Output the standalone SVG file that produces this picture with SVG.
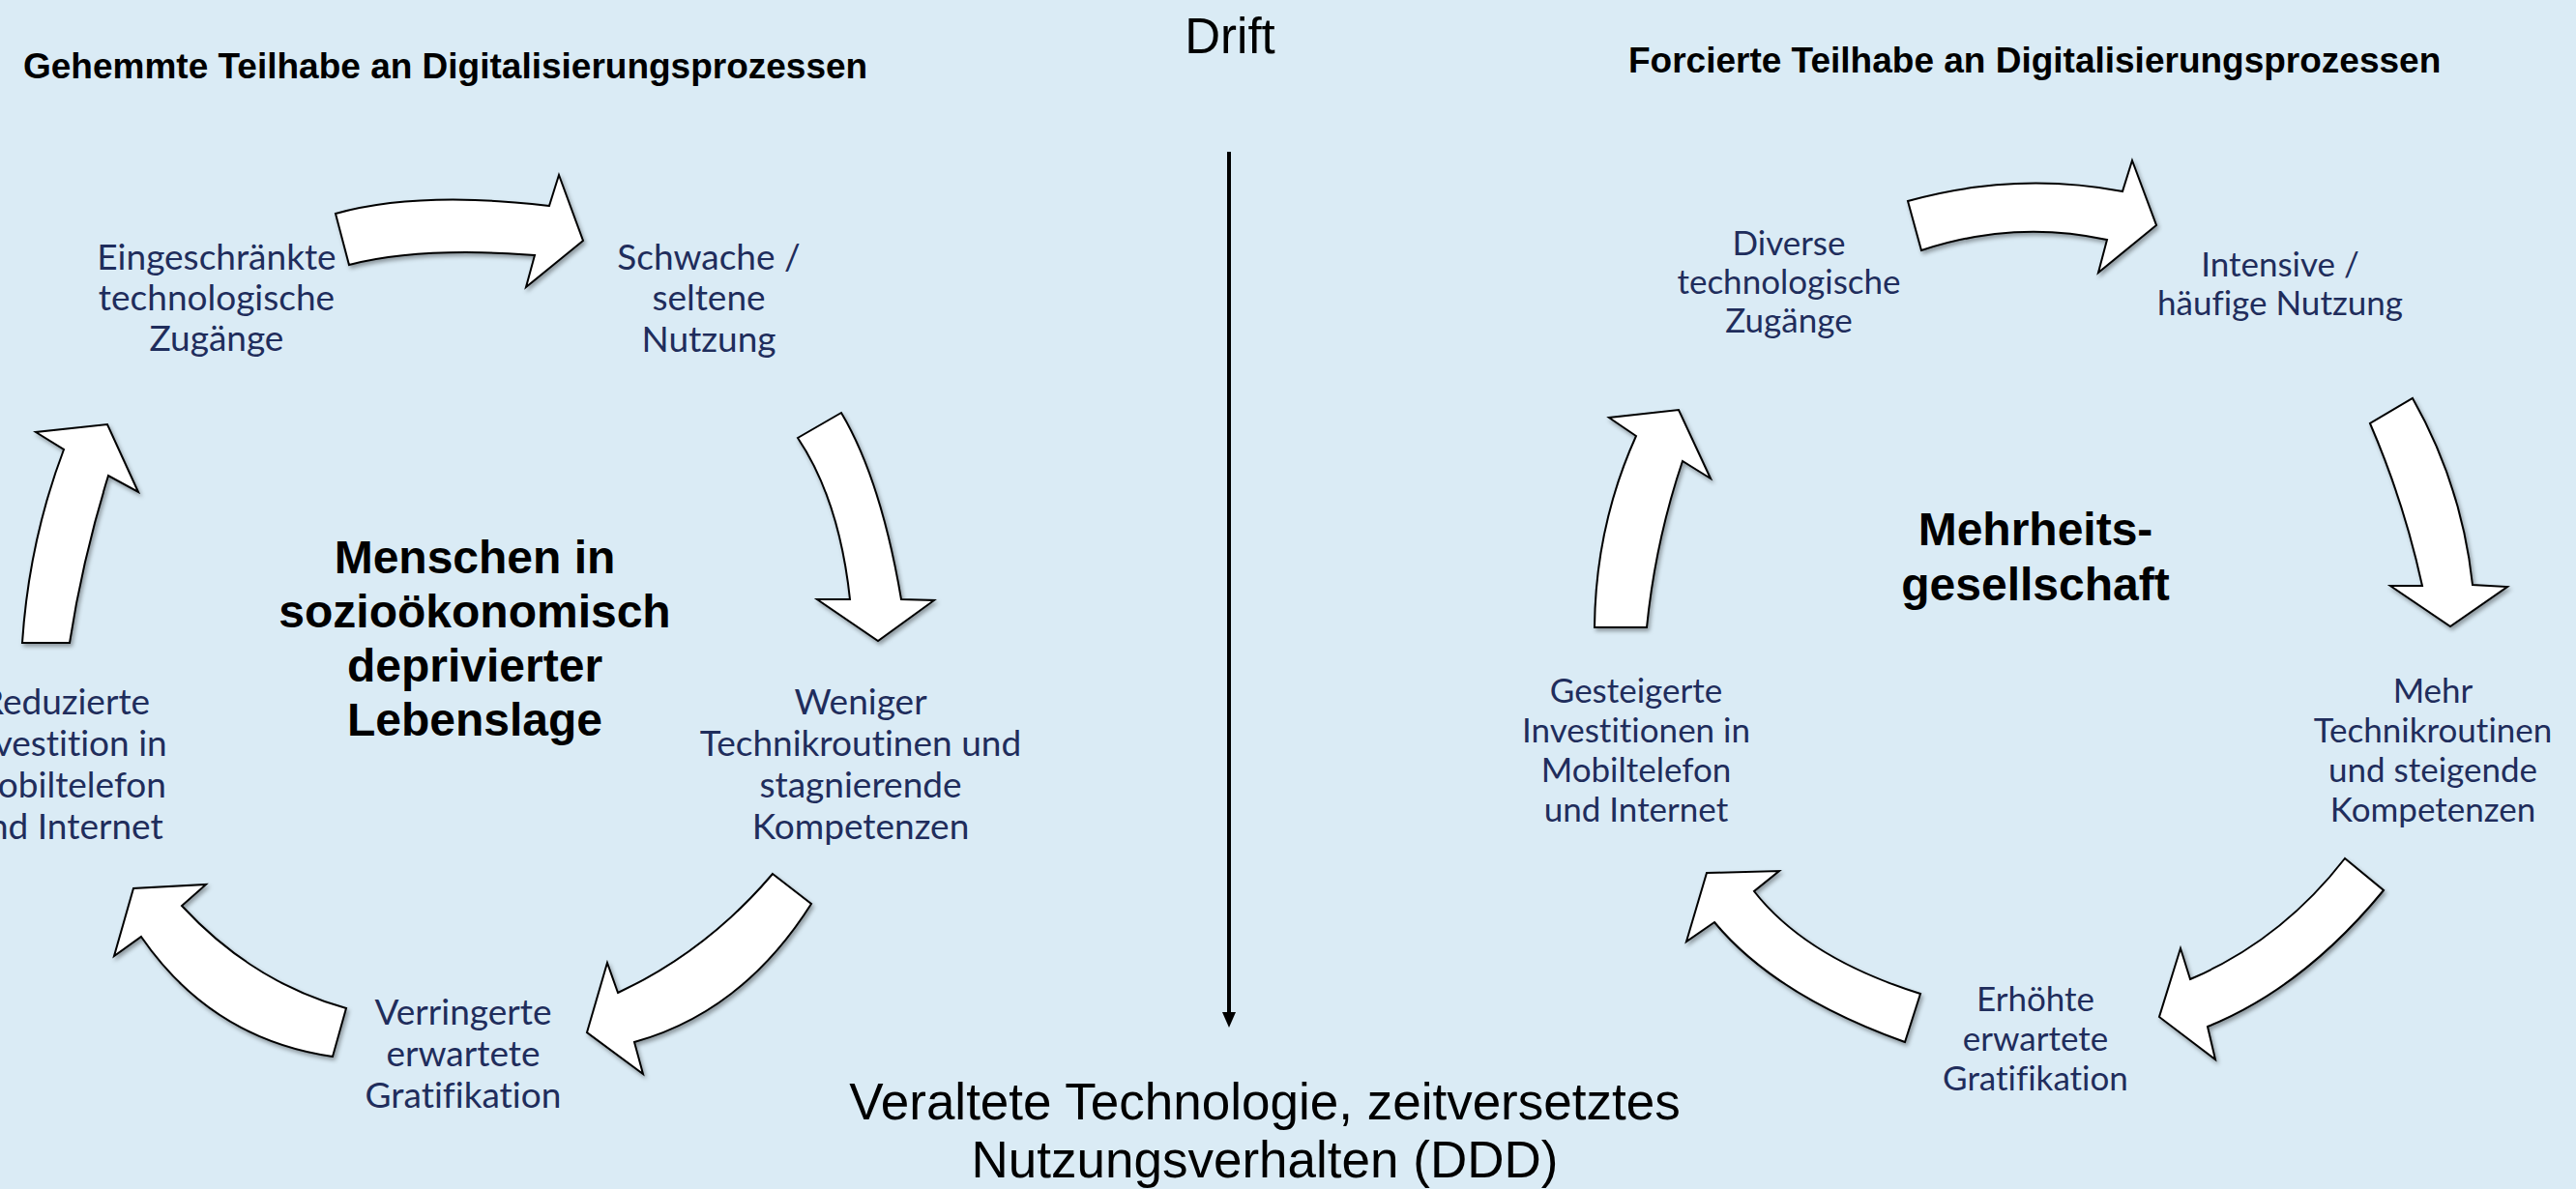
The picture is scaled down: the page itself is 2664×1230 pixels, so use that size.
<svg xmlns="http://www.w3.org/2000/svg" width="2664" height="1230" viewBox="0 0 2664 1230">
<defs>
<filter id="sh" x="-20%" y="-20%" width="140%" height="140%"><feDropShadow dx="2" dy="3" stdDeviation="2" flood-color="#000" flood-opacity="0.35"/></filter>
<marker id="ah" markerUnits="userSpaceOnUse" markerWidth="16" markerHeight="16" viewBox="0 0 16 14" refX="3" refY="7" orient="auto"><path d="M0,0 L16,7 L0,14 Z" fill="#000"/></marker>
</defs>
<style>
.arr{fill:#fff;stroke:#000;stroke-width:2;stroke-linejoin:miter;filter:url(#sh)}
.node{font-family:Lato,"Liberation Sans",sans-serif;fill:#1F2D5C;text-anchor:middle;font-variant-ligatures:none}
.l{font-size:37px}
.r{font-size:35px}
.title{font-family:"Liberation Sans",Arial,sans-serif;font-weight:bold;font-size:37px;fill:#000}
.center{font-family:"Liberation Sans",Arial,sans-serif;font-weight:bold;font-size:48px;text-anchor:middle;fill:#000}
.big{font-family:"Liberation Sans",Arial,sans-serif;font-size:53px;text-anchor:middle;fill:#000}
</style>
<rect width="2664" height="1230" fill="#DAEBF5"/>

<g id="title-left"><text class="title" x="24" y="81">Gehemmte Teilhabe an Digitalisierungsprozessen</text></g>
<g id="title-right"><text class="title" x="1684" y="75">Forcierte Teilhabe an Digitalisierungsprozessen</text></g>
<g id="drift"><text class="big" x="1272" y="55" style="font-size:51px">Drift</text></g>
<g id="ddd"><text class="big" x="1308" y="1158">Veraltete Technologie, zeitversetztes</text><text class="big" x="1308" y="1218">Nutzungsverhalten (DDD)</text></g>

<g id="center-left"><text class="center" x="491" y="593">Menschen in</text><text class="center" x="491" y="649">sozioökonomisch</text><text class="center" x="491" y="705">deprivierter</text><text class="center" x="491" y="761">Lebenslage</text></g>
<g id="center-right"><text class="center" x="2105" y="564">Mehrheits-</text><text class="center" x="2105" y="621">gesellschaft</text></g>

<g id="node-l1" class="node l"><text x="224" y="279">Eingeschränkte</text><text x="224" y="321">technologische</text><text x="224" y="363">Zugänge</text></g>
<g id="node-l2" class="node l"><text x="733" y="279">Schwache /</text><text x="733" y="321">seltene</text><text x="733" y="364">Nutzung</text></g>
<g id="node-l3" class="node l"><text x="890" y="739">Weniger</text><text x="890" y="782">Technikroutinen und</text><text x="890" y="825">stagnierende</text><text x="890" y="868">Kompetenzen</text></g>
<g id="node-l4" class="node l"><text x="479" y="1060">Verringerte</text><text x="479" y="1103">erwartete</text><text x="479" y="1146">Gratifikation</text></g>
<g id="node-l5" class="node l"><text x="68" y="739">Reduzierte</text><text x="68" y="782">Investition in</text><text x="68" y="825">Mobiltelefon</text><text x="68" y="868">und Internet</text></g>

<g id="node-r1" class="node r"><text x="1850" y="264">Diverse</text><text x="1850" y="304">technologische</text><text x="1850" y="344">Zugänge</text></g>
<g id="node-r2" class="node r"><text x="2358" y="286">Intensive /</text><text x="2358" y="326">häufige Nutzung</text></g>
<g id="node-r3" class="node r"><text x="2516" y="727">Mehr</text><text x="2516" y="768">Technikroutinen</text><text x="2516" y="809">und steigende</text><text x="2516" y="850">Kompetenzen</text></g>
<g id="node-r4" class="node r"><text x="2105" y="1046">Erhöhte</text><text x="2105" y="1087">erwartete</text><text x="2105" y="1128">Gratifikation</text></g>
<g id="node-r5" class="node r"><text x="1692" y="727">Gesteigerte</text><text x="1692" y="768">Investitionen in</text><text x="1692" y="809">Mobiltelefon</text><text x="1692" y="850">und Internet</text></g>

<g id="connectors">
<line x1="1271" y1="157" x2="1271" y2="1050" stroke="#000" stroke-width="4" marker-end="url(#ah)"/>
<path class="arr" d="M347,221 Q434,197 568,213 L578,181 L603,249 L544,297 L553,264 Q435,255 361,274 Z"/>
<path class="arr" d="M870,427 Q911,496 932,620 L966,621 L908,663 L845,620 L879,620 Q868,517 825,453 Z"/>
<path class="arr" d="M799,904 L839,935 Q768,1047 656,1078 L665,1111 L607,1068 L628,996 L639,1027 Q731,984 799,904 Z"/>
<path class="arr" d="M358,1043 L344,1093 Q219,1075 146,969 L118,989 L138,919 L213,915 L188,937 Q261,1016 358,1043 Z"/>
<path class="arr" d="M23,665 L72,665 Q85,580 112,492 L143,509 L111,439 L37,447 L66,465 Q30,560 23,665 Z"/>
<path class="arr" d="M1973,208 Q2084,177 2195,198 L2205,166 L2230,233 L2170,282 L2179,248 Q2083,227 1987,259 Z"/>
<path class="arr" d="M2495,412 Q2546,502 2557,605 L2593,607 L2534,648 L2472,606 L2505,606 Q2486,519 2451,438 Z"/>
<path class="arr" d="M2425,888 L2465,921 Q2382,1022 2283,1062 L2291,1096 L2233,1052 L2255,981 L2265,1013 Q2359,973 2425,888 Z"/>
<path class="arr" d="M1986,1028 L1970,1078 Q1836,1030 1773,954 L1744,974 L1765,903 L1840,901 L1814,922 Q1868,991 1986,1028 Z"/>
<path class="arr" d="M1649,649 L1703,649 Q1712,560 1740,477 L1769,495 L1736,424 L1664,432 L1692,451 Q1650,544 1649,649 Z"/>
</g>
</svg>
